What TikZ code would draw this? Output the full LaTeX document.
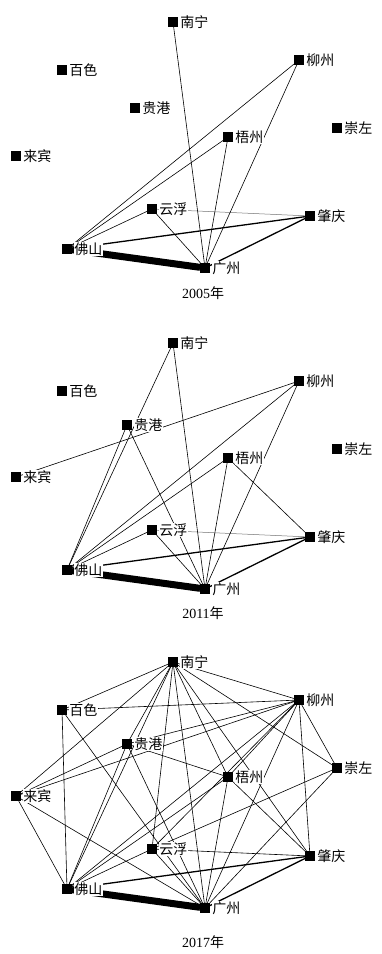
\documentclass[tikz,border=0pt]{standalone}
\usepackage{fontspec}
\setmainfont{Liberation Serif}
\newfontfamily\cjk{Noto Sans CJK SC}
\usetikzlibrary{positioning, backgrounds}

\tikzset{
    city/.style={fill=black, minimum size=9.5pt, inner sep=0pt},
    cname/.style={font=\cjk\fontsize{14}{14}\selectfont, fill=white, inner sep=0.8pt},
    yearcap/.style={font=\fontsize{14}{14}\selectfont},
    link/.style={line width=0.6pt},
    faint/.style={line width=0.5pt, black!55},
    strong/.style={line width=1.3pt},
    heavy/.style={line width=7pt},
}

\begin{document}
\begin{tikzpicture}[x=1pt, y=-1pt]
    \useasboundingbox (0,0) rectangle (381,954);

    % Cities, one panel per year
    \foreach \p/\dy/\gx/\gy/\cy/\yr in {a/0/135/108/293/2005, b/321/127/104/292/2011, c/640/127/104/302/2017} {
        \begin{scope}[yshift=-\dy pt]
            \foreach \c/\x/\y/\t in {nn/173/22/南宁, lz/299/60/柳州, bs/62/70/百色, gg/\gx/\gy/贵港,
                                     wz/228/137/梧州, cz/337/128/崇左, lb/16/156/来宾, yf/152/209/云浮,
                                     zq/310/216/肇庆, fs/67/249/佛山, gz/205/268/广州} {
                \node[city] (\p-\c) at (\x,\y) {};
                \node[cname, right=1.5pt of \p-\c] (\p-\c-t) {\t};
            }
            \node[yearcap] (\p-yr) at (203,\cy) {\yr{\cjk 年}};
        \end{scope}
    }

    \begin{pgfonlayer}{background}
        % 2005
        \draw[heavy] (a-fs) -- (a-gz);
        \draw[strong] (a-fs) -- (a-zq) (a-gz) -- (a-zq);
        \draw[faint] (a-yf) -- (a-zq);
        \foreach \u/\v in {nn/gz, lz/fs, lz/gz, wz/fs, wz/gz, yf/fs, yf/gz}
            \draw[link] (a-\u) -- (a-\v);

        % 2011
        \draw[heavy] (b-fs) -- (b-gz);
        \draw[strong] (b-fs) -- (b-zq) (b-gz) -- (b-zq);
        \draw[faint] (b-yf) -- (b-zq);
        \foreach \u/\v in {nn/gz, nn/fs, lb/lz, gg/fs, gg/gz, lz/fs, lz/gz,
                           wz/fs, wz/gz, wz/zq, yf/fs, yf/gz}
            \draw[link] (b-\u) -- (b-\v);

        % 2017
        \draw[heavy] (c-fs) -- (c-gz);
        \draw[strong] (c-fs) -- (c-zq) (c-gz) -- (c-zq);
        \foreach \u/\v in {nn/bs, nn/lb, nn/gg, nn/fs, nn/yf, nn/gz, nn/wz, nn/zq, nn/cz, nn/lz,
                           bs/lz, bs/fs, bs/gz, lb/gg, lb/lz, lb/fs, lb/gz,
                           gg/lz, gg/fs, gg/wz, gg/gz,
                           lz/fs, lz/yf, lz/gz, lz/wz, lz/zq, lz/cz,
                           wz/fs, wz/gz, wz/zq, cz/yf, cz/gz,
                           yf/fs, yf/gz, yf/zq}
            \draw[link] (c-\u) -- (c-\v);
    \end{pgfonlayer}
\end{tikzpicture}
\end{document}
